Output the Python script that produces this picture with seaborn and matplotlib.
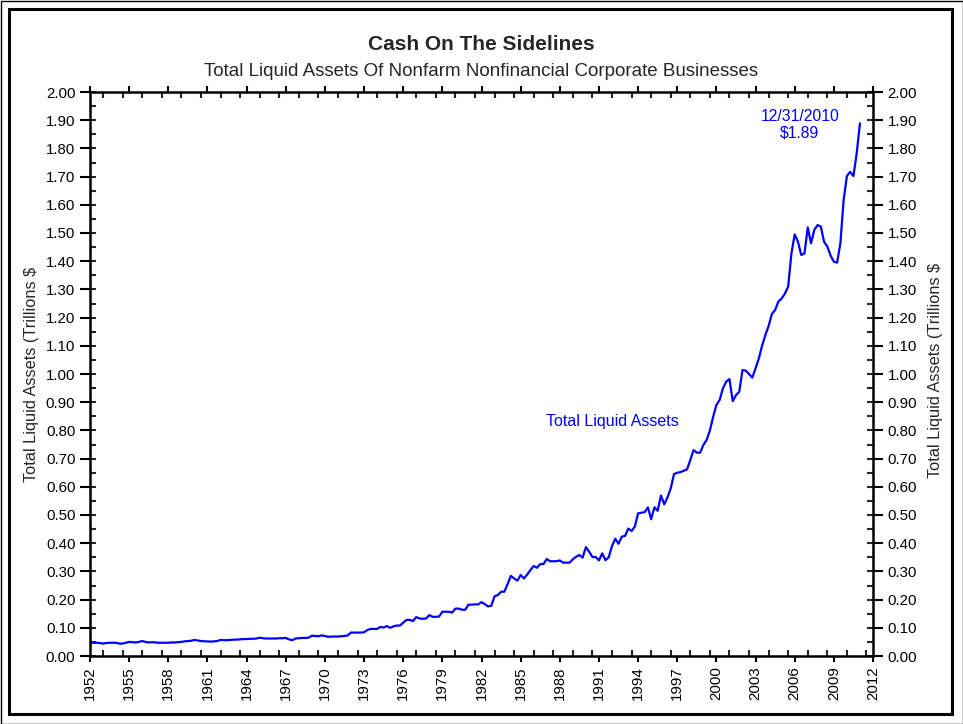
import numpy as np
import pandas as pd
import matplotlib
matplotlib.use("Agg")
import matplotlib.pyplot as plt
from matplotlib.patches import Rectangle
from matplotlib.ticker import MultipleLocator, FixedLocator
import seaborn as sns

# ---- data (trillions $, quarterly, first value = 12/31/1951) ----
start_value = [0.047]
v1950s = [0.047, 0.047, 0.046, 0.044, 0.046, 0.047, 0.047, 0.047,
          0.044, 0.044, 0.047, 0.050, 0.049, 0.048, 0.050, 0.053,
          0.050, 0.048, 0.049, 0.048, 0.047, 0.047, 0.047, 0.047,
          0.048, 0.048, 0.049, 0.050, 0.052, 0.053, 0.054, 0.057]
v1960s = [0.055, 0.053, 0.052, 0.052, 0.051, 0.052, 0.053, 0.057,
          0.056, 0.056, 0.057, 0.058, 0.058, 0.059, 0.060, 0.060,
          0.061, 0.061, 0.062, 0.065, 0.063, 0.062, 0.062, 0.062,
          0.062, 0.063, 0.063, 0.064, 0.059, 0.056, 0.062, 0.063,
          0.064, 0.064, 0.065, 0.072, 0.071, 0.070, 0.073, 0.071]
v1970s = [0.068, 0.069, 0.069, 0.069, 0.070, 0.071, 0.073, 0.083,
          0.083, 0.083, 0.083, 0.084, 0.092, 0.096, 0.096, 0.096,
          0.103, 0.101, 0.106, 0.100, 0.105, 0.108, 0.108, 0.118,
          0.128, 0.128, 0.124, 0.138, 0.133, 0.132, 0.133, 0.145,
          0.139, 0.139, 0.140, 0.157, 0.157, 0.157, 0.154, 0.168]
v1980s = [0.168, 0.164, 0.164, 0.182, 0.182, 0.183, 0.183, 0.191,
          0.184, 0.176, 0.178, 0.212, 0.216, 0.228, 0.228, 0.255,
          0.284, 0.275, 0.267, 0.287, 0.275, 0.289, 0.305, 0.319,
          0.313, 0.326, 0.326, 0.344, 0.336, 0.336, 0.336, 0.339,
          0.331, 0.331, 0.331, 0.343, 0.352, 0.358, 0.349, 0.386]
v1990s = [0.370, 0.351, 0.351, 0.339, 0.364, 0.340, 0.350, 0.390,
          0.416, 0.398, 0.423, 0.426, 0.452, 0.443, 0.459, 0.506,
          0.508, 0.510, 0.527, 0.485, 0.527, 0.515, 0.569, 0.538,
          0.562, 0.594, 0.645, 0.650, 0.652, 0.657, 0.662, 0.695,
          0.730, 0.721, 0.721, 0.748, 0.766, 0.800, 0.848, 0.890]
v2000s = [0.908, 0.949, 0.973, 0.982, 0.904, 0.925, 0.937, 1.014,
          1.012, 1.000, 0.987, 1.020, 1.055, 1.100, 1.138, 1.170,
          1.213, 1.227, 1.257, 1.268, 1.285, 1.310, 1.428, 1.495,
          1.469, 1.422, 1.428, 1.520, 1.463, 1.511, 1.528, 1.523,
          1.469, 1.452, 1.420, 1.398, 1.395, 1.463, 1.617, 1.702,
          1.717, 1.702, 1.782, 1.889]

values = start_value + v1950s + v1960s + v1970s + v1980s + v1990s + v2000s
first_year = 1952.0
years = first_year + 0.25 * np.arange(len(values))
df = pd.DataFrame({"year": years, "assets": values})

x_ticks = list(range(1952, 2013, 3))
y_ticks = [round(0.1 * i, 2) for i in range(21)]

title = "Cash On The Sidelines"
subtitle = "Total Liquid Assets Of Nonfarm Nonfinancial Corporate Businesses"
y_label = "Total Liquid Assets (Trillions $"
series_label = "Total Liquid Assets"
end_label = "12/31/2010\n$1.89"

# ---- style ----
sns.set_style("white")
plt.rcParams["font.family"] = ["Liberation Sans", "DejaVu Sans"]

fig = plt.figure(figsize=(9.63, 7.24), dpi=100)
ax = fig.add_axes([90 / 963, 1 - 656 / 724, (873 - 90) / 963, (656 - 92) / 724])

sns.lineplot(data=df, x="year", y="assets", color="#0000ff", linewidth=1.6, ax=ax)

ax.set_xlim(1952, 2012)
ax.set_ylim(0, 2.0)
ax.xaxis.set_major_locator(FixedLocator(x_ticks))
ax.xaxis.set_minor_locator(MultipleLocator(1.5))
ax.yaxis.set_major_locator(FixedLocator(y_ticks))
ax.yaxis.set_minor_locator(MultipleLocator(0.05))
ax.xaxis.remove_overlapping_locs = False
ax.yaxis.remove_overlapping_locs = False
ax.set_xticklabels([str(t) for t in x_ticks], rotation=90)
ax.set_yticklabels([f"{t:.2f}" for t in y_ticks])

for s in ax.spines.values():
    s.set_linewidth(1.8)
    s.set_color("black")

ax.tick_params(axis="both", which="major", direction="out", length=7.5, width=1.5,
               labelsize=10.8, colors="black", pad=3)
ax.tick_params(axis="both", which="minor", direction="in", length=4, width=1.5)
ax.tick_params(axis="y", which="both", left=True, right=True, labelleft=True, labelright=True)
ax.tick_params(axis="x", which="both", bottom=True, top=True)
ax.tick_params(axis="x", which="major", length=4.5)

ax.set_xlabel("")
ax.set_ylabel(y_label, fontsize=11.8, labelpad=5)
fig.text(935 / 963, 1 - 370 / 724, y_label, rotation=90, ha="center", va="center", fontsize=11.8)

ax.text(1992.0, 0.83, series_label, color="#0000ff", fontsize=11.5, ha="center", va="center")
ax.text(2006.4, 1.885, end_label, color="#0000ff", fontsize=11.3, ha="center", va="center",
        linespacing=1.1)

fig.text(0.5, 1 - 44 / 724, title, ha="center", va="center", fontsize=15, fontweight="bold")
fig.text(0.5, 1 - 71 / 724, subtitle, ha="center", va="center", fontsize=13.5)

# double frame
fig.patches.append(Rectangle((0.5 / 963, 0.5 / 724), 962 / 963, 723 / 724, transform=fig.transFigure,
                             fill=False, edgecolor="black", linewidth=1.0))
fig.patches.append(Rectangle((9 / 963, 10 / 724), (952 - 9) / 963, (715 - 10) / 724,
                             transform=fig.transFigure, fill=False, edgecolor="black", linewidth=2.2))

fig.savefig("out.png", dpi=100)
